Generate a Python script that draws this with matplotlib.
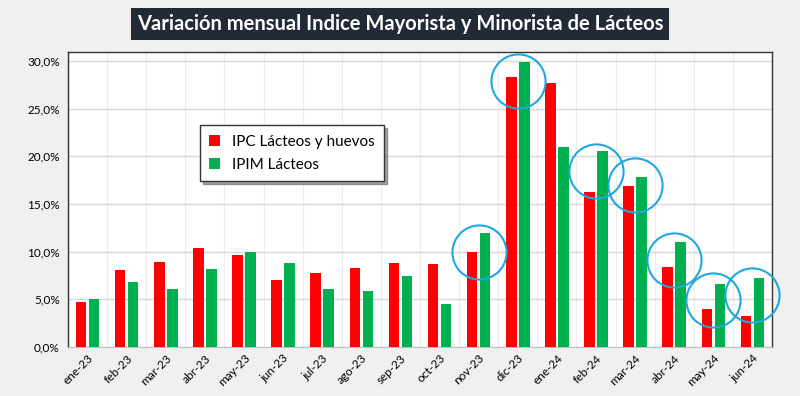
import numpy as np
import matplotlib.pyplot as plt
from matplotlib.ticker import FuncFormatter

# data (monthly % change)
months = ["ene-23", "feb-23", "mar-23", "abr-23", "may-23", "jun-23", "jul-23", "ago-23", "sep-23",
          "oct-23", "nov-23", "dic-23", "ene-24", "feb-24", "mar-24", "abr-24", "may-24", "jun-24"]
ipc_lacteos = [4.7, 8.05, 8.9, 10.4, 9.6, 7.0, 7.75, 8.25, 8.8,
               8.75, 10.0, 28.3, 27.7, 16.3, 16.9, 8.35, 4.0, 3.2]
ipim_lacteos = [5.0, 6.8, 6.1, 8.2, 10.0, 8.85, 6.1, 5.85, 7.4,
                4.5, 12.0, 29.9, 21.0, 20.6, 17.8, 11.05, 6.6, 7.2]

# highlighted months (circles) and the level they are centred on
circle_months = ["nov-23", "dic-23", "feb-24", "mar-24", "abr-24", "may-24", "jun-24"]
circle_levels = [10.0, 27.9, 18.5, 17.0, 9.1, 4.9, 5.5]

RED = "#ff0000"
GREEN = "#00b050"
BLUE = "#1fa7e0"

fig = plt.figure(figsize=(8, 3.96), dpi=100)
fig.patch.set_facecolor("#f0f0f0")
ax = fig.add_axes([68 / 800, 1 - 347 / 396, (772 - 68) / 800, (347 - 52) / 396])

x = np.arange(len(months))
w = 0.27
ax.bar(x - 0.165, ipc_lacteos, w, color=RED, label="IPC Lácteos y huevos", zorder=3)
ax.bar(x + 0.165, ipim_lacteos, w, color=GREEN, label="IPIM Lácteos", zorder=3)

# blue highlight circles
cx = [months.index(m) for m in circle_months]
ax.plot(cx, circle_levels, linestyle="none", marker="o", markersize=39,
        markerfacecolor="none", markeredgecolor=BLUE, markeredgewidth=1.5,
        zorder=4, clip_on=False)

ax.set_xlim(-0.5, len(months) - 0.5)
ax.set_ylim(0, 30.95)
ax.set_yticks(np.arange(0, 31, 5))
ax.yaxis.set_major_formatter(FuncFormatter(lambda v, p: f"{v:.1f}%".replace(".", ",")))
ax.set_xticks(x)
ax.set_xticklabels(months, rotation=45, ha="right", rotation_mode="anchor")
ax.set_xticks(np.arange(-0.5, len(months), 1), minor=True)

ax.grid(axis="y", color="#d9d9d9", linewidth=1, zorder=0)
ax.grid(axis="x", which="minor", color="#ececec", linewidth=0.8, zorder=0)
ax.tick_params(axis="x", which="both", length=0, labelsize=8.5, pad=4)
ax.tick_params(axis="y", length=0, labelsize=8.5, pad=6)
for lab in ax.get_xticklabels() + ax.get_yticklabels():
    lab.set_family("Lato")

for s in ["left", "top", "right"]:
    ax.spines[s].set_color("#333333")
    ax.spines[s].set_linewidth(1.0)
ax.spines["bottom"].set_color("#bfbfbf")

leg = ax.legend(loc="upper left", bbox_to_anchor=(0.177, 0.777), frameon=True, fancybox=False,
                shadow=True, handlelength=0.7, handleheight=0.7, handletextpad=0.8,
                borderpad=0.6, labelspacing=0.6, prop={"family": "Lato", "size": 11})
leg.get_frame().set_edgecolor("#333333")
leg.get_frame().set_linewidth(1.0)

fig.text(0.5, 1 - 24 / 396, "Variación mensual Indice Mayorista y Minorista de Lácteos",
         ha="center", va="center", color="white", fontsize=14.5, fontweight="bold", family="Lato",
         bbox=dict(boxstyle="square,pad=0.3", facecolor="#222a35", edgecolor="none"))

fig.savefig("out.png", dpi=100, facecolor=fig.get_facecolor())
